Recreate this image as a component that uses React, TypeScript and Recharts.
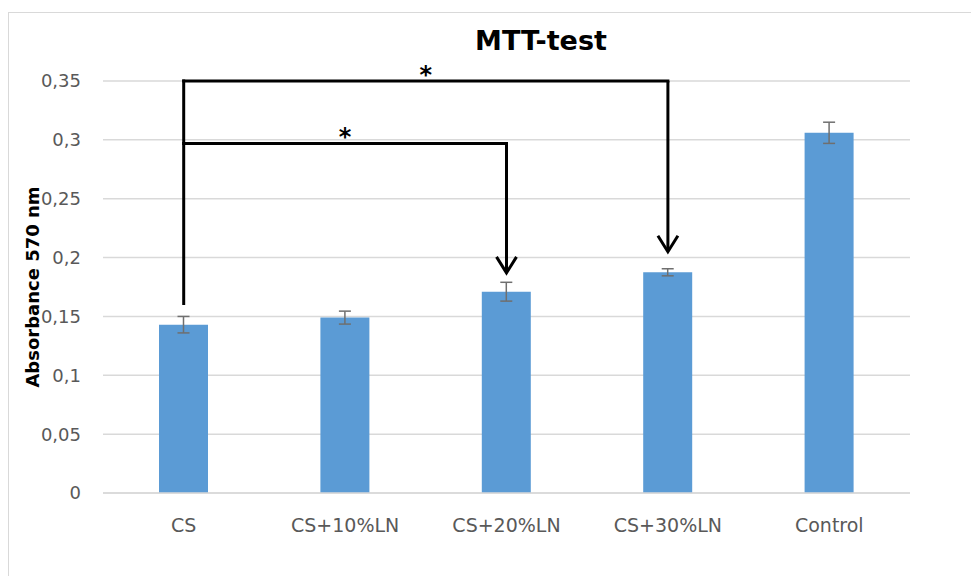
import {
  Bar,
  BarChart,
  CartesianGrid,
  ErrorBar,
  ReferenceLine,
  XAxis,
  YAxis,
} from "recharts";

const FONT = "'DejaVu Sans', sans-serif";
const BAR_BLUE = "#5B9BD5";
const TEXT_GREY = "#595959";

const groups = ["CS", "CS+10%LN", "CS+20%LN", "CS+30%LN", "Control"];
const absorbance = [0.143, 0.149, 0.171, 0.1875, 0.306];
const sd = [0.007, 0.0055, 0.008, 0.003, 0.009];
const yTicks = [0, 0.05, 0.1, 0.15, 0.2, 0.25, 0.3, 0.35];

// significance brackets: value heights of the bracket bars and arrow tips
const bracketHigh = 0.35;
const bracketLow = 0.297;
const bracketFoot = 0.161;
const arrowTip20 = 0.187;
const arrowTip30 = 0.205;

const data = groups.map((g, i) => ({ name: g, value: absorbance[i], err: sd[i] }));

const fmt = (v: number) => String(v).replace(".", ",");

function BracketLine(props: any) {
  const { x1, y1, x2, y2 } = props;
  return <line x1={x1} y1={y1} x2={x2} y2={y2} stroke="#000" strokeWidth={3} strokeLinecap="square" />;
}

function ArrowLine(props: any) {
  const { x1, y1, y2 } = props;
  const top = Math.min(y1, y2);
  const tip = Math.max(y1, y2);
  const x = x1;
  return (
    <g>
      <line x1={x} y1={top} x2={x} y2={tip - 1} stroke="#000" strokeWidth={3} />
      <polyline
        points={`${x - 10},${tip - 16} ${x},${tip} ${x + 10},${tip - 16}`}
        fill="none"
        stroke="#000"
        strokeWidth={3}
      />
    </g>
  );
}

const starLabel = {
  value: "*",
  position: "top" as const,
  offset: -2,
  fill: "#000",
  fontSize: 24,
  fontWeight: 700,
  fontFamily: FONT,
};

export default function App() {
  return (
    <div style={{ position: "absolute", left: 0, top: 0, width: 971, height: 576, background: "#fff", overflow: "hidden" }}>
      <div
        style={{
          position: "absolute",
          left: 8,
          top: 12,
          width: 980,
          height: 600,
          borderLeft: "1px solid #d9d9d9",
          borderTop: "1px solid #d9d9d9",
        }}
      />
      <div
        style={{
          position: "absolute",
          left: 441,
          top: 25,
          width: 200,
          textAlign: "center",
          fontFamily: FONT,
          fontWeight: 700,
          fontSize: 27,
          color: "#000",
        }}
      >
        MTT-test
      </div>
      <div style={{ position: "absolute", left: 0, top: 0 }}>
        <BarChart
          width={971}
          height={576}
          data={data}
          margin={{ top: 81, right: 61, bottom: 0, left: 0 }}
        >
          <CartesianGrid vertical={false} stroke="#d9d9d9" strokeWidth={1.5} />
          <XAxis
            dataKey="name"
            height={83}
            axisLine={{ stroke: "#d9d9d9", strokeWidth: 1.5 }}
            tickLine={false}
            tickMargin={20}
            interval={0}
            tick={{ fill: TEXT_GREY, fontSize: 19, fontFamily: FONT }}
          />
          <YAxis
            width={103}
            domain={[0, 0.35]}
            ticks={yTicks}
            tickFormatter={fmt}
            axisLine={false}
            tickLine={false}
            tickMargin={16}
            tick={{ fill: TEXT_GREY, fontSize: 18, fontFamily: FONT }}
            label={{
              value: "Absorbance 570 nm",
              angle: -90,
              position: "insideLeft",
              offset: 33,
              style: { textAnchor: "middle", fontWeight: 700, fontSize: 18, fontFamily: FONT, fill: "#000" },
            }}
          />
          <Bar dataKey="value" fill={BAR_BLUE} barSize={49} isAnimationActive={false}>
            <ErrorBar dataKey="err" width={6} stroke="#6f6f6f" strokeWidth={1.5} isAnimationActive={false} />
          </Bar>
          <ReferenceLine
            ifOverflow="visible"
            segment={[{ x: "CS", y: bracketFoot }, { x: "CS", y: bracketHigh }]}
            shape={BracketLine}
          />
          <ReferenceLine
            ifOverflow="visible"
            segment={[{ x: "CS", y: bracketHigh }, { x: "CS+30%LN", y: bracketHigh }]}
            shape={BracketLine}
            label={starLabel}
          />
          <ReferenceLine
            ifOverflow="visible"
            segment={[{ x: "CS", y: bracketLow }, { x: "CS+20%LN", y: bracketLow }]}
            shape={BracketLine}
            label={starLabel}
          />
          <ReferenceLine
            ifOverflow="visible"
            segment={[{ x: "CS+20%LN", y: bracketLow }, { x: "CS+20%LN", y: arrowTip20 }]}
            shape={ArrowLine}
          />
          <ReferenceLine
            ifOverflow="visible"
            segment={[{ x: "CS+30%LN", y: bracketHigh }, { x: "CS+30%LN", y: arrowTip30 }]}
            shape={ArrowLine}
          />
        </BarChart>
      </div>
    </div>
  );
}
